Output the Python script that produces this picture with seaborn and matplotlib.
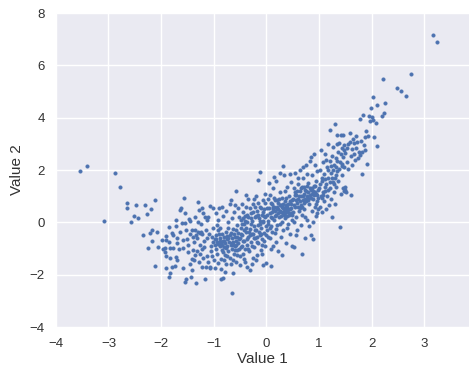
import matplotlib
matplotlib.use("Agg")
import matplotlib.pyplot as plt
import seaborn as sns
import pandas as pd

# ---- data (Value 1, Value 2) ----
left_tail = [
    (-3.54, 1.96), (-3.40, 2.15), (-3.09, 0.06), (-2.88, 1.89), (-2.78, 1.35),
    (-2.64, 0.74), (-2.64, 0.54), (-2.58, 0.03), (-2.52, 0.25), (-2.44, 0.18), (-2.47, 0.66),
    (-2.31, 0.66), (-2.26, 0.33), (-2.20, 0.50), (-2.12, 0.85), (-2.34, -0.47), (-2.21, -0.39),
    (-2.17, -0.29), (-2.07, -0.37), (-2.18, -0.71), (-2.25, -0.97), (-2.06, -0.94), (-2.12, -1.66),
    (-1.85, -0.17), (-1.71, -0.13), (-1.91, -0.51), (-1.90, -0.67), (-1.85, -0.76), (-1.80, -0.42),
    (-1.77, -0.47), (-1.92, -0.97), (-1.83, -0.99), (-1.77, -0.96), (-1.93, -1.12), (-1.90, -1.29),
    (-1.83, -1.37), (-1.74, -1.66), (-1.90, -1.73), (-1.83, -1.92), (-1.85, -2.07), (-1.69, -0.60),
    (-1.70, -1.45), (-1.69, -0.78), (-1.72, -1.31), (-1.80, -1.72), (-1.71, 0.09), (-1.64, 0.47),
    (-1.62, 0.56), (-1.56, 0.92), (-1.61, -0.04), (-1.64, -0.36), (-1.59, -0.67), (-1.66, -1.03),
    (-1.58, -0.99), (-1.58, -1.76), (-1.53, -2.16), (-1.55, -2.27), (-1.98, -0.68), (-1.96, -1.01),
]

mid_left = [
    (-1.54, 0.35), (-1.55, -0.04), (-1.52, -0.29), (-1.50, -0.65), (-1.48, -0.87), (-1.47, 0.12),
    (-1.44, -2.08), (-1.42, -1.82), (-1.36, -0.29), (-1.30, -0.35), (-1.27, -0.41), (-1.24, -0.38),
    (-1.22, -0.45), (-1.29, 0.79), (-1.28, 0.47), (-1.23, 0.54), (-1.20, 0.35), (-1.36, 0.22),
    (-1.30, 0.00), (-1.39, -1.06), (-1.32, -1.10), (-1.27, -1.22), (-1.35, -1.25), (-1.37, -1.44),
    (-1.28, -1.50), (-1.23, -1.72), (-1.41, -1.41), (-1.33, -2.33), (-1.45, -0.45), (-1.42, -0.30),
    (-1.40, -0.55), (-1.38, -0.75), (-1.34, -0.50), (-1.31, -0.60), (-1.26, -0.85), (-1.22, -1.00),
    (-1.18, -0.70), (-1.15, -0.30), (-1.12, 0.10), (-1.10, 0.20), (-1.16, 0.21), (-1.13, -1.30),
    (-1.10, -1.50), (-1.08, -1.75), (-1.14, -1.70), (-1.17, -2.18), (-1.07, -1.72), (-1.05, -0.90),
    (-1.04, -0.55), (-1.02, -0.20), (-1.08, 0.62), (-1.01, 0.55), (-1.06, -1.10), (-1.03, -1.30),
    (-1.25, -0.05), (-1.45, 0.05), (-1.49, -1.15), (-1.46, -1.60), (-1.18, -0.95), (-1.12, -0.60),
    (-1.20, -1.35), (-1.09, -0.45), (-1.01, -0.75),
]

core_a = [
    (-0.98, -0.65), (-0.97, -0.85), (-0.96, -1.00), (-0.95, -0.50), (-0.94, -0.75), (-0.93, -1.20),
    (-0.92, -0.30), (-0.91, 0.10), (-0.90, 0.55), (-0.89, -0.90), (-0.88, -0.60), (-0.87, -1.40),
    (-0.87, -2.18), (-0.83, -2.14), (-0.86, -0.80), (-0.85, -0.45), (-0.84, -1.05), (-0.83, -0.70),
    (-0.82, 0.25), (-0.81, -0.95), (-0.80, -0.55), (-0.79, -1.25), (-0.78, -0.80), (-0.77, -0.35),
    (-0.76, -1.60), (-0.75, -0.65), (-0.74, -0.90), (-0.73, 0.00), (-0.72, -1.10), (-0.71, -0.75),
    (-0.70, -0.50), (-0.69, -1.35), (-0.68, -0.85), (-0.67, 0.85), (-0.66, -0.60), (-0.65, -2.71),
    (-0.65, -1.00), (-0.64, -0.25), (-0.63, -1.95), (-0.63, -0.75), (-0.62, -1.20), (-0.61, 0.40),
    (-0.60, -0.55), (-0.59, -0.90), (-0.58, 1.21), (-0.58, -1.50), (-0.57, -0.70), (-0.56, -0.10),
    (-0.55, -1.05), (-0.54, -0.40), (-0.53, -0.80), (-0.52, 0.20), (-0.51, -1.30), (-0.50, -0.60),
    (-0.50, -1.63), (-0.99, -1.45), (-0.97, -1.75), (-0.95, 0.35), (-0.93, -0.10), (-0.91, -1.55),
    (-0.89, -0.20), (-0.86, -1.80), (-0.84, 0.60), (-0.80, -1.45), (-0.78, -1.90), (-0.76, 0.45),
    (-0.74, -1.30), (-0.72, -0.20), (-0.70, 0.70), (-0.68, -1.60), (-0.66, 0.15), (-0.64, -1.45),
    (-0.62, -0.45), (-0.60, 0.65), (-0.58, -0.30), (-0.56, -1.25), (-0.54, 0.55), (-0.52, -1.00),
    (-0.96, -0.62), (-0.92, -0.82), (-0.88, -0.72), (-0.84, -0.88), (-0.80, -0.72), (-0.76, -0.98),
    (-0.72, -0.60), (-0.68, -0.42), (-0.64, -0.88), (-0.60, -1.05), (-0.56, -0.55), (-0.52, -0.65),
    (-0.90, -0.45), (-0.82, -1.15), (-0.74, -0.52), (-0.66, -0.78), (-0.58, -0.88),
]

core_b = [
    (-0.49, -0.20), (-0.48, 0.10), (-0.47, -0.90), (-0.46, -0.50), (-0.45, 0.40), (-0.44, -1.20),
    (-0.43, -0.05), (-0.42, -0.70), (-0.41, 0.25), (-0.40, -1.50), (-0.39, -0.35), (-0.38, 0.60),
    (-0.37, -1.69), (-0.37, -0.85), (-0.36, 0.00), (-0.35, -0.55), (-0.34, 0.90), (-0.33, -1.10),
    (-0.32, -0.25), (-0.31, -1.82), (-0.30, 0.35), (-0.29, -0.75), (-0.28, 0.05), (-0.27, -0.45),
    (-0.26, -1.35), (-0.25, 0.70), (-0.24, -0.15), (-0.23, -0.95), (-0.22, 0.20), (-0.21, -0.60),
    (-0.20, 1.00), (-0.19, -0.30), (-0.18, -1.25), (-0.17, 0.45), (-0.16, 1.64), (-0.16, -0.10),
    (-0.15, -0.80), (-0.14, 0.15), (-0.13, -0.50), (-0.12, 1.91), (-0.12, 0.60), (-0.11, -1.05),
    (-0.10, -0.20), (-0.09, 0.30), (-0.08, -0.65), (-0.07, 0.85), (-0.06, -1.63), (-0.06, 0.00),
    (-0.05, -0.40), (-0.04, 0.50), (-0.03, -0.90), (-0.02, 0.20), (-0.01, -0.15), (-0.48, -0.45),
    (-0.46, -0.05), (-0.44, 0.15), (-0.42, -0.30), (-0.40, 0.05), (-0.38, -0.20), (-0.36, -0.65),
    (-0.34, 0.20), (-0.32, -0.50), (-0.30, -0.05), (-0.28, -0.90), (-0.26, 0.40), (-0.24, -0.60),
    (-0.22, -0.30), (-0.20, 0.25), (-0.18, -0.75), (-0.16, 0.30), (-0.14, -0.35), (-0.12, -0.05),
    (-0.10, 0.55), (-0.08, -1.20), (-0.06, 0.40), (-0.04, -0.70), (-0.02, 0.75), (-0.47, 0.70),
    (-0.43, -1.40), (-0.39, 1.05), (-0.35, -1.00), (-0.31, 0.55), (-0.27, -1.60), (-0.23, 0.90),
    (-0.19, -1.45), (-0.15, 0.75), (-0.11, -0.45), (-0.07, 0.05), (-0.03, 1.10), (-0.45, -0.70),
    (-0.41, -1.00), (-0.33, -0.35), (-0.25, -0.45), (-0.17, -0.55), (-0.09, -0.85), (-0.01, -0.50),
    (-0.49, -0.95), (-0.37, 0.30), (-0.29, 0.15), (-0.21, 0.60), (-0.13, 0.05), (-0.05, 0.25),
]

core_c = [
    (0.00, -1.57), (0.08, -1.65), (0.01, 0.30), (0.02, -0.30), (0.03, 0.90), (0.04, 0.05),
    (0.05, 0.55), (0.06, -0.60), (0.07, 1.05), (0.08, 0.20), (0.09, -0.15), (0.10, 0.70),
    (0.11, 0.40), (0.12, -0.90), (0.13, 1.30), (0.14, 0.10), (0.15, 0.60), (0.16, -0.40),
    (0.17, 0.85), (0.18, 0.30), (0.19, 1.60), (0.20, -0.10), (0.21, 0.50), (0.22, -1.10),
    (0.23, 0.75), (0.24, 0.20), (0.25, 1.15), (0.26, 0.45), (0.27, -0.55), (0.28, 0.65),
    (0.29, 0.00), (0.30, 0.95), (0.31, 0.35), (0.32, 2.17), (0.32, -0.30), (0.33, 0.55),
    (0.34, 1.80), (0.35, 0.15), (0.36, 0.80), (0.37, -0.80), (0.38, 0.45), (0.39, 1.35),
    (0.40, 0.25), (0.41, 0.70), (0.42, -0.05), (0.43, 1.00), (0.44, 0.50), (0.45, -0.45),
    (0.46, 1.55), (0.47, 0.35), (0.48, 0.85), (0.49, 0.10), (0.02, 0.55), (0.04, -0.55),
    (0.06, 0.35), (0.08, 0.75), (0.10, -0.35), (0.12, 0.50), (0.14, 0.95), (0.16, 0.25),
    (0.18, -0.25), (0.20, 0.60), (0.22, 0.35), (0.24, 0.90), (0.26, -0.05), (0.28, 0.40),
    (0.30, 0.60), (0.32, 0.70), (0.34, 0.30), (0.36, 0.55), (0.38, 0.95), (0.40, 0.60),
    (0.42, 0.40), (0.44, 0.80), (0.46, 0.55), (0.48, 0.30), (0.05, 1.50), (0.09, -1.00),
    (0.15, 1.75), (0.19, -0.75), (0.25, 1.90), (0.29, -1.25), (0.35, 1.20), (0.39, -0.20),
    (0.45, 1.85), (0.49, -0.90), (0.03, -0.05), (0.11, 0.15), (0.17, 0.45), (0.23, 0.50),
    (0.27, 0.25), (0.33, 0.45), (0.37, 0.65), (0.41, 0.50), (0.47, 0.70), (0.13, 0.60),
    (0.21, 0.85), (0.31, 0.55), (0.43, 0.30), (0.07, -0.20), (0.26, 0.65), (0.36, 0.35),
]

core_d = [
    (0.50, 0.90), (0.51, 0.40), (0.52, -0.93), (0.53, 1.30), (0.54, 0.60), (0.55, 1.90),
    (0.56, 0.20), (0.57, 1.05), (0.58, 0.75), (0.59, -0.30), (0.60, 1.45), (0.61, 0.90),
    (0.62, 0.45), (0.63, 1.20), (0.64, 2.00), (0.65, 0.65), (0.66, 1.00), (0.67, -1.21),
    (0.67, 0.30), (0.68, 1.35), (0.69, 0.85), (0.70, 1.70), (0.71, 0.50), (0.72, 1.10),
    (0.73, -0.60), (0.74, 1.25), (0.75, 0.80), (0.76, 2.20), (0.77, 1.00), (0.78, 0.10),
    (0.79, 1.50), (0.80, 1.15), (0.81, 0.70), (0.82, 2.35), (0.83, 1.30), (0.84, -0.50),
    (0.85, 0.95), (0.86, 1.80), (0.87, 0.45), (0.88, 1.20), (0.89, -0.65), (0.90, 1.05),
    (0.91, 2.60), (0.92, 0.60), (0.93, 1.40), (0.94, 0.25), (0.95, 1.10), (0.96, 1.95),
    (0.97, 0.80), (0.98, 1.25), (0.99, 0.50), (0.52, 0.65), (0.54, 1.05), (0.56, 0.85),
    (0.58, 1.20), (0.60, 0.60), (0.62, 1.00), (0.64, 0.80), (0.66, 1.30), (0.68, 0.60),
    (0.70, 1.00), (0.72, 1.35), (0.74, 0.90), (0.76, 1.20), (0.78, 1.40), (0.80, 0.85),
    (0.82, 1.05), (0.84, 1.25), (0.86, 1.10), (0.88, 0.90), (0.90, 1.40), (0.92, 1.15),
    (0.94, 1.60), (0.96, 1.05), (0.98, 0.95), (0.53, 0.00), (0.57, -0.50), (0.61, 1.70),
    (0.65, -0.10), (0.69, 2.10), (0.73, 0.20), (0.77, 1.85), (0.81, -0.15), (0.85, 2.50),
    (0.89, 0.00), (0.93, 2.20), (0.97, 0.35), (0.55, 1.15), (0.63, 0.55), (0.71, 0.75),
    (0.79, 0.95), (0.87, 1.30), (0.95, 0.70),
]

upper = [
    (1.00, 1.30), (1.01, 0.60), (1.02, 2.00), (1.03, 1.00), (1.04, 2.75), (1.05, 0.40),
    (1.06, 1.60), (1.07, 1.15), (1.08, 2.30), (1.09, 0.80), (1.10, 1.85), (1.11, 1.20),
    (1.12, 2.60), (1.13, 0.50), (1.14, 1.45), (1.15, 2.10), (1.16, 1.00), (1.17, 3.00),
    (1.18, 1.70), (1.19, 0.65), (1.20, 3.52), (1.20, 2.35), (1.21, 1.30), (1.22, 1.90),
    (1.23, 0.90), (1.24, 0.19), (1.25, 2.55), (1.26, 1.55), (1.27, 2.90), (1.28, 1.15),
    (1.29, 2.20), (1.30, 3.78), (1.30, 1.70), (1.31, 0.70), (1.32, 2.45), (1.33, 1.35),
    (1.34, 3.00), (1.35, 3.34), (1.35, 1.95), (1.36, 2.70), (1.37, 1.60), (1.38, 3.02),
    (1.39, -0.17), (1.40, 2.30), (1.41, 3.34), (1.42, 1.10), (1.43, 2.85), (1.44, 1.80),
    (1.45, 2.50), (1.46, 3.34), (1.46, 1.30), (1.47, 2.10), (1.48, 2.95), (1.49, 1.24),
    (1.50, 2.65), (1.02, 1.45), (1.05, 1.70), (1.08, 1.05), (1.11, 1.65), (1.14, 2.40),
    (1.17, 1.25), (1.20, 1.55), (1.23, 2.15), (1.26, 2.00), (1.29, 1.45), (1.32, 1.80),
    (1.35, 2.35), (1.38, 2.05), (1.41, 2.60), (1.44, 2.25), (1.47, 2.75), (1.06, 0.95),
    (1.12, 1.35), (1.18, 2.00), (1.24, 1.70), (1.33, 2.10), (1.43, 2.15), (1.47, 1.20),
    (1.50, 1.35),
]

right_tail = [
    (1.52, 1.17), (1.53, 2.83), (1.54, 2.30), (1.55, 3.00), (1.56, 2.05), (1.58, 3.08),
    (1.59, 3.43), (1.60, 2.55), (1.61, 1.05), (1.62, 2.80), (1.63, 2.20), (1.64, 3.20),
    (1.66, 2.60), (1.67, 3.02), (1.68, 2.40), (1.70, 3.30), (1.71, 2.85), (1.73, 3.08),
    (1.74, 2.45), (1.76, 2.70), (1.78, 2.57), (1.78, 3.95), (1.80, 3.10), (1.81, 2.70),
    (1.82, 1.85), (1.84, 4.10), (1.85, 2.95), (1.87, 3.27), (1.88, 2.75), (1.90, 3.50),
    (1.92, 2.23), (1.94, 3.31), (1.95, 4.06), (1.96, 3.89), (1.99, 4.36), (2.00, 4.04),
    (2.03, 4.79), (2.03, 3.91), (2.05, 3.27), (2.08, 3.81), (2.10, 2.93), (2.11, 4.48),
    (2.20, 4.06), (2.21, 5.49), (2.24, 4.17), (2.25, 4.57), (2.49, 5.15), (2.56, 5.02),
    (2.66, 4.85), (2.74, 5.68), (3.16, 7.18), (3.24, 6.88),
]

x_ticks = [-4, -3, -2, -1, 0, 1, 2, 3]
y_ticks = [-4, -2, 0, 2, 4, 6, 8]

points = left_tail + mid_left + core_a + core_b + core_c + core_d + upper + right_tail
df = pd.DataFrame(points, columns=["Value 1", "Value 2"])

sns.set_theme(style="darkgrid")
plt.rcParams["font.family"] = ["Liberation Sans", "DejaVu Sans"]

fig = plt.figure(figsize=(4.69, 3.65), dpi=100)
ax = fig.add_axes([0.119, 0.104, 0.881, 0.86])
sns.scatterplot(data=df, x="Value 1", y="Value 2", ax=ax, color="#4C72B0",
                s=7, edgecolor="#4C72B0", linewidth=0.2)
ax.set_xlim(-4, 3.85)
ax.set_ylim(-4, 8)
ax.set_xticks(x_ticks)
ax.set_yticks(y_ticks)
ax.tick_params(labelsize=9.5, colors="#333333", pad=2)
ax.set_xlabel("Value 1", fontsize=11, color="#333333", labelpad=1)
ax.set_ylabel("Value 2", fontsize=11, color="#333333", labelpad=4)
for s in ax.spines.values():
    s.set_visible(False)
fig.savefig("out.png", dpi=100)
